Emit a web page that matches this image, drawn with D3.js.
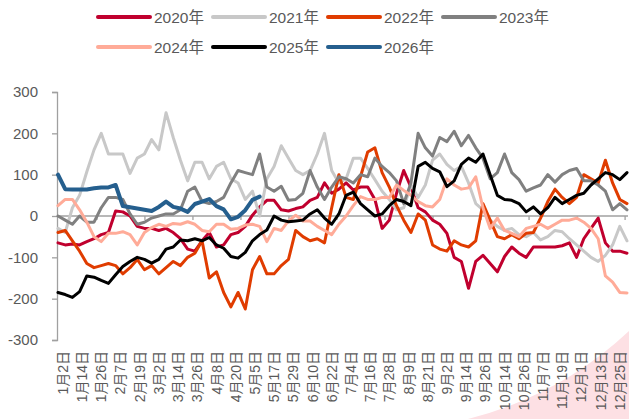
<!DOCTYPE html>
<html><head><meta charset="utf-8">
<script src="https://cdn.jsdelivr.net/npm/d3@7"></script>
<style>
html,body{margin:0;padding:0;background:#fff;}
svg{display:block;font-family:"Liberation Sans","Noto Sans CJK SC",sans-serif;}
</style></head>
<body><svg id="c" width="629" height="419"></svg>
<script>
// tick labels on the x axis (every 8th trading day)
const xLabels = ["1月2日","1月14日","1月26日","2月7日","2月19日","3月2日","3月14日","3月26日","4月8日","4月20日","5月5日","5月17日","5月29日","6月10日","6月22日","7月4日","7月16日","7月28日","8月9日","8月21日","9月2日","9月14日","9月26日","10月14日","10月26日","11月7日","11月19日","12月1日","12月13日","12月25日"];
const yTicks = [-300,-200,-100,0,100,200,300];
const seriesNames = ["2020年","2021年","2022年","2023年","2024年","2025年","2026年"];
// values sampled every 3 trading days
const s2020 = [-65,-70,-68,-70,-62,-55,-45,-40,12,10,0,-25,-30,-30,-35,-30,-40,-55,-80,-85,
  -60,-40,-75,-70,-45,-40,-25,2,22,38,38,15,12,18,22,38,45,80,55,65,
  80,63,70,70,40,-30,-10,55,110,70,20,10,-10,-20,-42,-100,-110,-175,-110,
  -95,-115,-135,-98,-75,-90,-100,-75,-75,-75,-75,-72,-65,-100,-55,-30,-5,-65,-85,-85,-90];
const s2021 = [-30,-40,20,50,107,160,200,150,150,150,103,140,150,185,160,250,190,135,85,130,
  130,90,120,130,90,80,40,60,0,90,120,170,140,110,100,110,150,200,110,80,
  90,140,140,115,88,60,40,15,20,75,45,75,135,150,125,110,120,80,30,
  15,-10,-25,-35,-30,-45,-50,-40,-58,-50,-35,-38,-55,-70,-85,-100,-110,-95,-70,-25,-60];
const s2022 = [-40,-35,-60,-85,-115,-125,-120,-115,-120,-140,-125,-105,-130,-120,-140,-125,-110,-120,-100,-90,
  -60,-150,-135,-185,-220,-185,-225,-130,-98,-140,-140,-120,-105,-35,-50,-60,-55,-65,20,100,
  45,40,95,155,165,105,70,25,-10,-40,5,-10,-70,-80,-85,-60,-70,-75,-60,
  30,-10,-50,-55,-45,-55,-42,-40,-5,35,65,45,30,45,100,90,80,135,80,40,30];
const s2023 = [0,-10,-20,0,-15,-15,20,45,45,40,5,-20,-15,-5,0,5,5,15,60,70,
  35,30,35,45,80,110,105,100,150,70,60,72,38,40,55,110,70,40,70,95,
  90,80,100,95,140,120,105,85,30,80,200,165,145,190,180,205,170,195,165,
  140,90,105,150,105,88,60,68,75,100,82,100,110,115,85,85,75,60,15,30,15];
const s2024 = [25,40,40,15,-15,-50,-62,-42,-42,-38,-45,-70,-40,-28,-20,-25,-18,-20,-14,-20,
  -35,-38,-20,-20,-32,-30,-22,-20,-25,-62,-30,-35,-12,2,-12,-12,-25,-35,-45,-20,
  0,25,47,40,40,45,45,75,62,50,35,25,22,40,90,75,65,68,95,
  20,-30,-5,-35,-42,-50,-30,-25,-20,-30,-20,-10,-10,-5,-15,-30,-55,-145,-160,-185,-186];
const s2025 = [-185,-190,-197,-183,-145,-148,-156,-163,-142,-122,-110,-100,-105,-114,-105,-80,-75,-58,-60,-55,
  -60,-52,-70,-78,-98,-102,-88,-60,-45,-34,0,-10,-14,-12,-10,5,15,-5,-20,5,
  50,58,30,15,0,5,25,40,35,25,120,130,115,107,71,85,125,140,130,
  150,100,50,40,38,30,10,22,5,20,45,30,40,50,55,75,90,105,100,88,105];
const s2026 = [100,65,64,64,64,67,69,69,75,24,21,18,15,12,22,35,22,18,10,29,35,41,24,16,-8,-2,14,39,47];
const seriesValues = [s2020,s2021,s2022,s2023,s2024,s2025,s2026];
const colors = ["#c0002e","#c8c8c8","#e03c00","#808080","#ffab98","#000000","#255f8e"];
const widths = [3,3,3,3,3,3,4];

const STEP = 3, LABEL_STEP = 8, LABEL_START = 2, NDAYS = 237;
const svg = d3.select("#c");
const x = d3.scaleLinear().domain([0, NDAYS]).range([58, 627]);
const y = d3.scaleLinear().domain([-300, 300]).range([340, 92]);
const textCol = "#595959", axisCol = "#a0a0a0";

// decorative pink corner
svg.append("path").attr("d","M468,419 Q561,395 629,331 L629,419 Z").attr("fill","#fde0e4");

// y axis
const yAxis = svg.append("g").attr("transform","translate(57,0)")
  .call(d3.axisLeft(y).tickValues(yTicks).tickSize(5).tickPadding(14).tickFormat(d3.format("d")));
yAxis.select(".domain").attr("stroke",axisCol).attr("stroke-width",1.3);
yAxis.selectAll(".tick line").attr("stroke",axisCol).attr("stroke-width",1.3);
yAxis.selectAll("text").attr("fill",textCol).attr("font-size","15px")
  .attr("font-family","Liberation Sans, sans-serif").text(d => d < 0 ? "-" + Math.abs(d) : d);

// x axis line at zero
const xAxisTicks = d3.range(16, NDAYS, 20);
const xAxis = svg.append("g").attr("transform",`translate(0,${y(0)})`)
  .call(d3.axisBottom(x).tickValues(xAxisTicks).tickSize(4).tickFormat(""));
xAxis.select(".domain").attr("stroke",axisCol).attr("stroke-width",1.3).attr("d",`M57,0H628`);
xAxis.selectAll(".tick line").attr("stroke",axisCol).attr("stroke-width",1.3);

// x labels
svg.append("g").selectAll("text").data(xLabels).join("text")
  .attr("transform",(d,i)=>`translate(${x(LABEL_START + i*LABEL_STEP)},351) rotate(-90)`)
  .attr("text-anchor","end").attr("dy","0.36em")
  .attr("fill",textCol).attr("font-size","14px").text(d=>d);

// lines
const line = d3.line().x((d,i)=>x(i*STEP)).y(d=>y(d)).curve(d3.curveLinear);
svg.append("g").selectAll("path").data(seriesValues).join("path")
  .attr("d",d=>line(d)).attr("fill","none")
  .attr("stroke",(d,i)=>colors[i]).attr("stroke-width",(d,i)=>widths[i])
  .attr("stroke-linejoin","round").attr("stroke-linecap","round");

// legend
const legendPos = [[98,17],[213,17],[328,17],[443,17],[98,47],[213,47],[328,47]];
const lg = svg.append("g").selectAll("g").data(seriesNames).join("g")
  .attr("transform",(d,i)=>`translate(${legendPos[i][0]},${legendPos[i][1]})`);
lg.append("line").attr("x1",0).attr("x2",52).attr("y1",0).attr("y2",0)
  .attr("stroke",(d,i)=>colors[i]).attr("stroke-width",4).attr("stroke-linecap","round");
lg.append("text").attr("x",56).attr("y",0).attr("dy","0.36em")
  .attr("fill",textCol).attr("font-size","15.5px").text(d=>d);
</script></body></html>
